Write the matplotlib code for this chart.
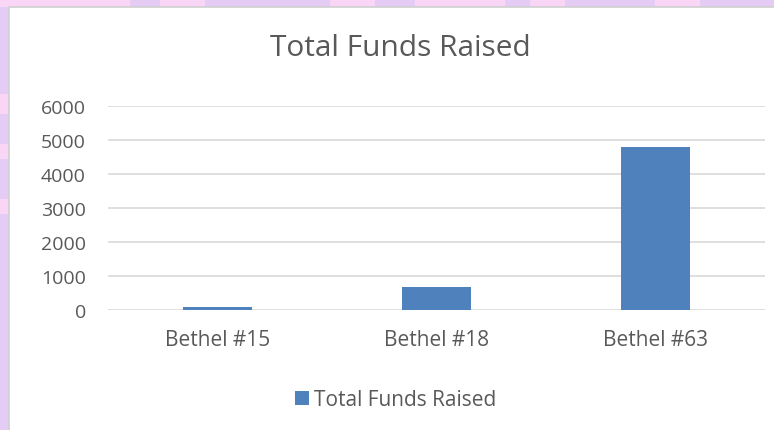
import matplotlib.pyplot as plt
from matplotlib.patches import Rectangle

# chart data
categories = ["Bethel #15", "Bethel #18", "Bethel #63"]
funds = [100, 680, 4800]
series_name = "Total Funds Raised"
y_ticks = [0, 1000, 2000, 3000, 4000, 5000, 6000]

W, H = 774, 431
text_color = "#595959"
bar_color = "#4F81BD"
plt.rcParams['font.family'] = ['Open Sans', 'DejaVu Sans']

fig = plt.figure(figsize=(W / 100, H / 100), dpi=100, facecolor="#E5CCF4")

# decorative background: pink patches in the lavender border
bg = fig.add_axes([0, 0, 1, 1])
bg.set_xlim(0, W)
bg.set_ylim(H, 0)
bg.axis("off")
for x0, x1 in [(0, 130), (160, 205), (330, 375), (415, 505), (530, 565), (655, 700)]:
    bg.add_patch(Rectangle((x0, 0), x1 - x0, 8, color="#F9D6F6", lw=0))
for y0, y1 in [(95, 115), (145, 160), (200, 215)]:
    bg.add_patch(Rectangle((0, y0), 9, y1 - y0, color="#F9D6F6", lw=0))
# white chart area
bg.add_patch(Rectangle((9, 8), W, H, facecolor="white", edgecolor="#D0D0D0", lw=1.2))

ax = fig.add_axes([108 / W, 1 - 311 / H, (765 - 108) / W, (311 - 107) / H])
ax.set_facecolor("none")
x = range(len(categories))
ax.bar(x, funds, width=0.315, color=bar_color, label=series_name, zorder=3)
ax.set_xlim(-0.5, len(categories) - 0.5)
ax.set_ylim(0, 6000)
ax.set_yticks(y_ticks)
ax.set_xticks(list(x))
ax.set_xticklabels(categories)
ax.grid(axis="y", color="#D9D9D9", lw=1.2, zorder=0)
for s in ax.spines.values():
    s.set_visible(False)
ax.tick_params(axis="both", length=0, labelsize=14, colors=text_color)
ax.tick_params(axis="y", pad=16)
ax.tick_params(axis="x", pad=14, labelsize=15)

fig.text(0.517, 1 - 49 / H, series_name, ha="center", va="center",
         fontsize=21.5, color=text_color)
leg = ax.legend(loc="center", bbox_to_anchor=(0.438, -0.44), frameon=False,
                fontsize=15, handlelength=0.65, handleheight=0.65,
                handletextpad=0.25, borderaxespad=0)
for t in leg.get_texts():
    t.set_color(text_color)

fig.savefig("out.png", dpi=100, facecolor=fig.get_facecolor())
